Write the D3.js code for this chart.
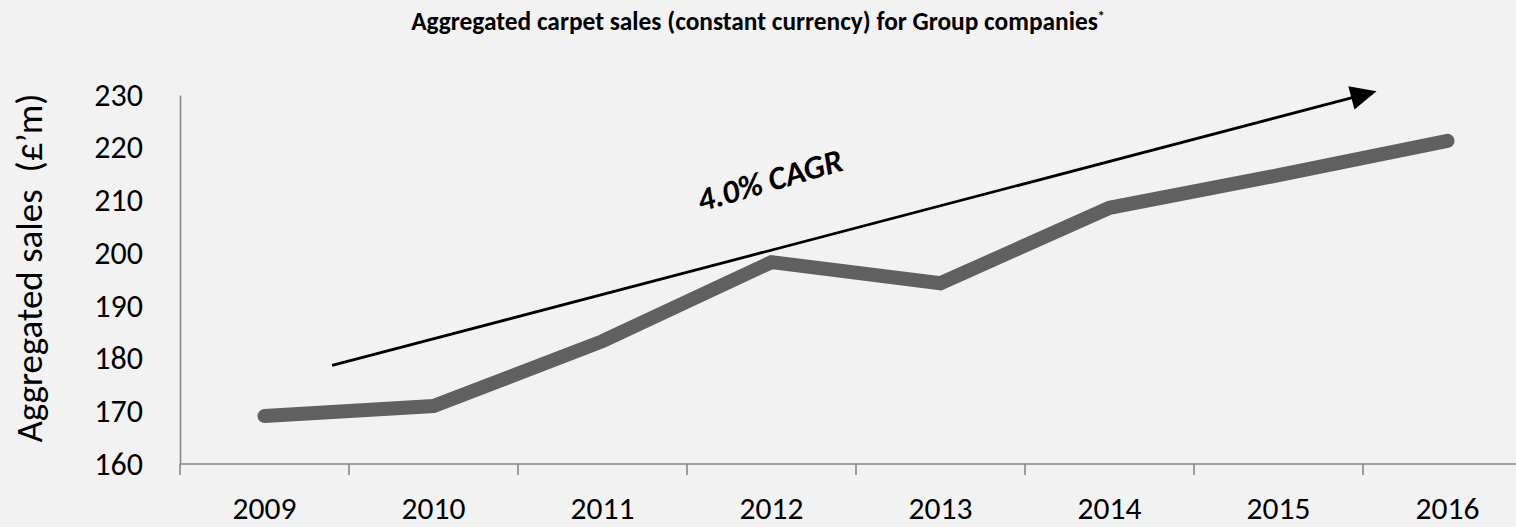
<!DOCTYPE html>
<html>
<head>
<meta charset="utf-8">
<script src="https://cdn.jsdelivr.net/npm/d3@7"></script>
<style>
  html, body { margin: 0; padding: 0; background: #f2f2f2; }
  svg { display: block; font-family: Carlito, Lato, "Open Sans", sans-serif; }
</style>
</head>
<body>
<svg id="chart" width="1516" height="527"></svg>
<script>
// Aggregated carpet sales, £m, constant currency
const years = ["2009", "2010", "2011", "2012", "2013", "2014", "2015", "2016"];
const sales = [169.1, 171.0, 183.3, 198.3, 194.3, 208.6, 214.8, 221.3];
const yTicks = [160, 170, 180, 190, 200, 210, 220, 230];

// Trend arrow, in (year index, £m) coordinates
const trendFrom = [0.40, 178.7];
const trendTo = [6.58, 230.7];
const trendLabel = "4.0% CAGR";
const trendLabelAt = [2.99, 213.8];

const titleText = "Aggregated carpet sales (constant currency) for Group companies";
const yTitle = "Aggregated sales\u00A0\u00A0(£\u2019m)";

const W = 1516, H = 527;
const FONT = "Carlito, Lato, 'Open Sans', sans-serif";
const svg = d3.select("#chart");

svg.append("rect").attr("width", W).attr("height", H).attr("fill", "#f2f2f2");

const y = d3.scaleLinear().domain([160, 230]).range([464, 95]);
const band = d3.scaleBand().domain(years).range([180, 1532]);
const xc = d => band(d) + band.bandwidth() / 2;
const xIdx = d3.scaleLinear().domain([0, years.length - 1]).range([xc(years[0]), xc(years[years.length - 1])]);

const axisColor = "#868686";

// Y axis
const gy = svg.append("g")
  .attr("transform", "translate(180,0)")
  .call(d3.axisLeft(y).tickValues(yTicks).tickSize(0).tickPadding(37));
gy.attr("font-family", FONT).attr("font-size", 32);
gy.select(".domain").attr("stroke", axisColor).attr("stroke-width", 1.6);
gy.selectAll("text").attr("fill", "#000");

// X axis: baseline with tick marks between categories
const gx = svg.append("g").attr("transform", "translate(0,464)");
gx.append("line")
  .attr("x1", 180).attr("x2", W)
  .attr("stroke", axisColor).attr("stroke-width", 1.6);
gx.selectAll("line.tick")
  .data(years)
  .join("line")
  .attr("class", "tick")
  .attr("x1", d => band(d)).attr("x2", d => band(d))
  .attr("y1", 0).attr("y2", 11)
  .attr("stroke", axisColor).attr("stroke-width", 1.6);
gx.selectAll("text")
  .data(years)
  .join("text")
  .attr("x", d => xc(d))
  .attr("y", 55)
  .attr("text-anchor", "middle")
  .attr("font-size", 31.5)
  .attr("fill", "#000")
  .text(d => d);

// Sales line
svg.append("path")
  .datum(sales)
  .attr("fill", "none")
  .attr("stroke", "#606060")
  .attr("stroke-width", 14)
  .attr("stroke-linecap", "round")
  .attr("stroke-linejoin", "miter")
  .attr("d", d3.line().x((d, i) => xc(years[i])).y(d => y(d)));

// Trend arrow
const x0 = xIdx(trendFrom[0]), y0 = y(trendFrom[1]);
const x1 = xIdx(trendTo[0]), y1 = y(trendTo[1]);
const ang = Math.atan2(y1 - y0, x1 - x0);
const headLen = 26, headHalf = 12;
const bx = x1 - headLen * Math.cos(ang), by = y1 - headLen * Math.sin(ang);
svg.append("line")
  .attr("x1", x0).attr("y1", y0)
  .attr("x2", bx + 2 * Math.cos(ang)).attr("y2", by + 2 * Math.sin(ang))
  .attr("stroke", "#000").attr("stroke-width", 2.8);
svg.append("path")
  .attr("d", d3.line()([
    [x1, y1],
    [bx - headHalf * Math.sin(ang), by + headHalf * Math.cos(ang)],
    [bx + headHalf * Math.sin(ang), by - headHalf * Math.cos(ang)]
  ]) + "Z")
  .attr("fill", "#000");

const angDeg = ang * 180 / Math.PI;
svg.append("text")
  .attr("transform", `translate(${xIdx(trendLabelAt[0])},${y(trendLabelAt[1])}) rotate(${angDeg - 1.5})`)
  .attr("text-anchor", "middle")
  .attr("dominant-baseline", "central")
  .attr("font-size", 33)
  .attr("font-weight", "bold")
  .attr("font-style", "italic")
  .attr("fill", "#000")
  .text(trendLabel);

// Title
const t = svg.append("text")
  .attr("x", 758).attr("y", 30)
  .attr("text-anchor", "middle")
  .attr("font-size", 25.4)
  .attr("font-weight", "bold")
  .attr("fill", "#000");
t.append("tspan").text(titleText);
t.append("tspan").attr("font-size", 14).attr("dy", -9).text("*");

// Y axis title
svg.append("text")
  .attr("transform", "translate(42,268) rotate(-90)")
  .attr("text-anchor", "middle")
  .attr("font-size", 37)
  .attr("fill", "#000")
  .text(yTitle);
</script>
</body>
</html>
